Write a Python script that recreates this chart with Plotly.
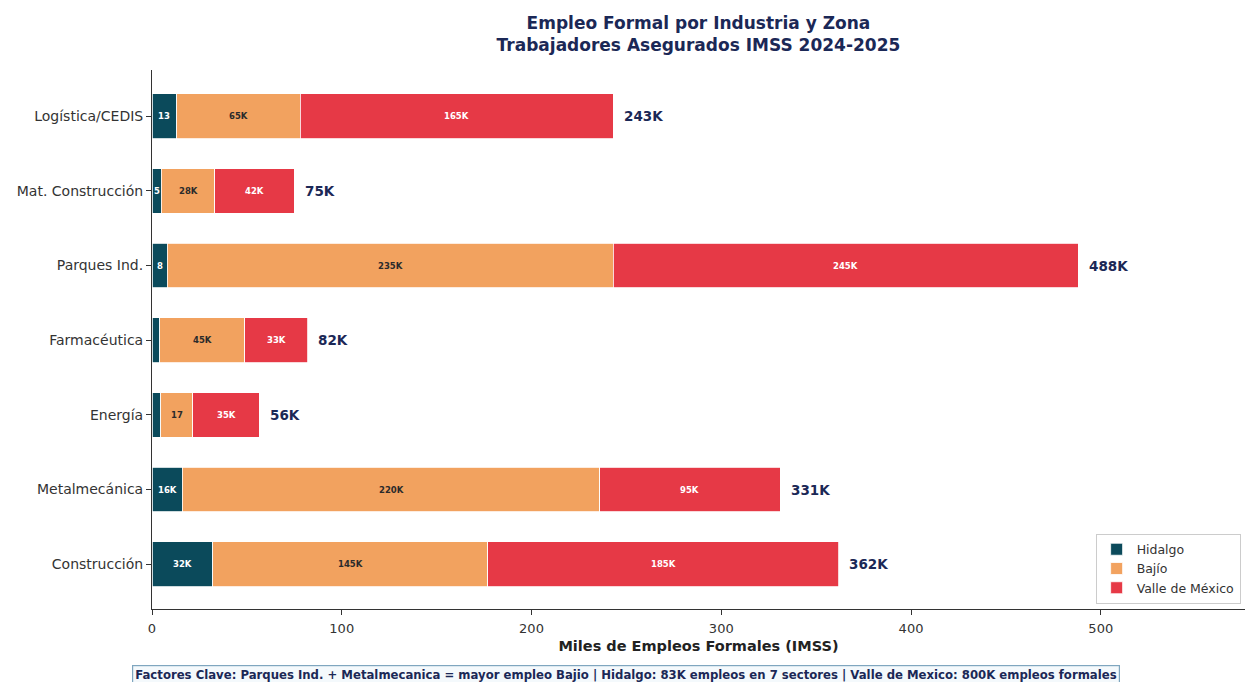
import plotly.graph_objects as go

categories = ["Construcción", "Metalmecánica", "Energía", "Farmacéutica",
              "Parques Ind.", "Mat. Construcción", "Logística/CEDIS"]
hidalgo = [32, 16, 4.5, 4, 8, 5, 13]
bajio = [145, 220, 17, 45, 235, 28, 65]
valle = [185, 95, 35, 33, 245, 42, 165]
hidalgo_txt = ["32K", "16K", "", "", "8", "5", "13"]
bajio_txt = ["145K", "220K", "17", "45K", "235K", "28K", "65K"]
valle_txt = ["185K", "95K", "35K", "33K", "245K", "42K", "165K"]
total_txt = ["362K", "331K", "56K", "82K", "488K", "75K", "243K"]
series_names = ["Hidalgo", "Bajío", "Valle de México"]
colors = ["#0b4a5b", "#f2a25f", "#e63946"]
text_colors = ["white", "#2b2b2b", "white"]
x_ticks = [0, 100, 200, 300, 400, 500]

NAVY = "#1b2856"
FONT = "DejaVu Sans"

fig = go.Figure()
series = [hidalgo, bajio, valle]
texts = [hidalgo_txt, bajio_txt, valle_txt]
for name, vals, col in zip(series_names, series, colors):
    fig.add_trace(go.Bar(
        y=categories, x=vals, name=name, orientation="h",
        marker=dict(color=col, line=dict(color="white", width=0.8)),
        width=0.6, hoverinfo="x+name",
    ))

annotations = []
for i, cat in enumerate(categories):
    start = 0
    for vals, txts, tcol in zip(series, texts, text_colors):
        v = vals[i]
        if txts[i]:
            annotations.append(dict(
                x=start + v / 2, y=cat, xref="x", yref="y", text="<b>%s</b>" % txts[i],
                showarrow=False, font=dict(family=FONT, size=8.5, color=tcol)))
        start += v
    annotations.append(dict(
        x=start + 4.5, y=cat, xref="x", yref="y", text="<b>%s</b>" % total_txt[i],
        showarrow=False, xanchor="left", font=dict(family=FONT, size=13.5, color=NAVY)))

annotations.append(dict(
    x=0.434, y=-0.104, xref="paper", yref="paper", xanchor="center", yanchor="top",
    text="<b>Factores Clave: Parques Ind. + Metalmecanica = mayor empleo Bajio | Hidalgo: 83K empleos en 7 sectores | Valle de Mexico: 800K empleos formales</b>",
    showarrow=False, font=dict(family=FONT, size=11.7, color=NAVY),
    bgcolor="#f4f9fc", bordercolor="#7fa6bf", borderwidth=1.2, borderpad=2))

fig.update_layout(
    barmode="stack",
    width=1245, height=682,
    margin=dict(l=152, r=0, t=70, b=73),
    paper_bgcolor="white", plot_bgcolor="white",
    font=dict(family=FONT, size=12, color="#333333"),
    title=dict(
        text="<b>Empleo Formal por Industria y Zona<br>Trabajadores Asegurados IMSS 2024-2025</b>",
        x=0.561, xanchor="center", y=0.958, yanchor="top",
        font=dict(family=FONT, size=17, color=NAVY)),
    xaxis=dict(
        range=[0, 576], tickvals=x_ticks, showgrid=False, zeroline=False,
        showline=True, linecolor="#333333", linewidth=1,
        ticks="outside", ticklen=5, tickcolor="#333333", ticklabelstandoff=2,
        tickfont=dict(family=FONT, size=13, color="#333333"),
        title=dict(text="<b>Miles de Empleos Formales (IMSS)</b>",
                   font=dict(family=FONT, size=14.5, color="#222222"), standoff=6)),
    yaxis=dict(
        categoryorder="array", categoryarray=categories,
        range=[-0.6, 6.62], showgrid=False, zeroline=False,
        showline=True, linecolor="#333333", linewidth=1,
        ticks="outside", ticklen=5, tickcolor="#333333",
        tickfont=dict(family=FONT, size=14, color="#333333")),
    legend=dict(
        x=0.996, y=0.01, xanchor="right", yanchor="bottom",
        bgcolor="rgba(255,255,255,0.9)", bordercolor="#cccccc", borderwidth=1,
        font=dict(family=FONT, size=12.5, color="#333333"),
        traceorder="normal", itemwidth=30, tracegroupgap=0),
    annotations=annotations,
    showlegend=True,
)

fig.write_html("out.html", config={"displayModeBar": False},
               post_script="document.body.style.margin='0';")
